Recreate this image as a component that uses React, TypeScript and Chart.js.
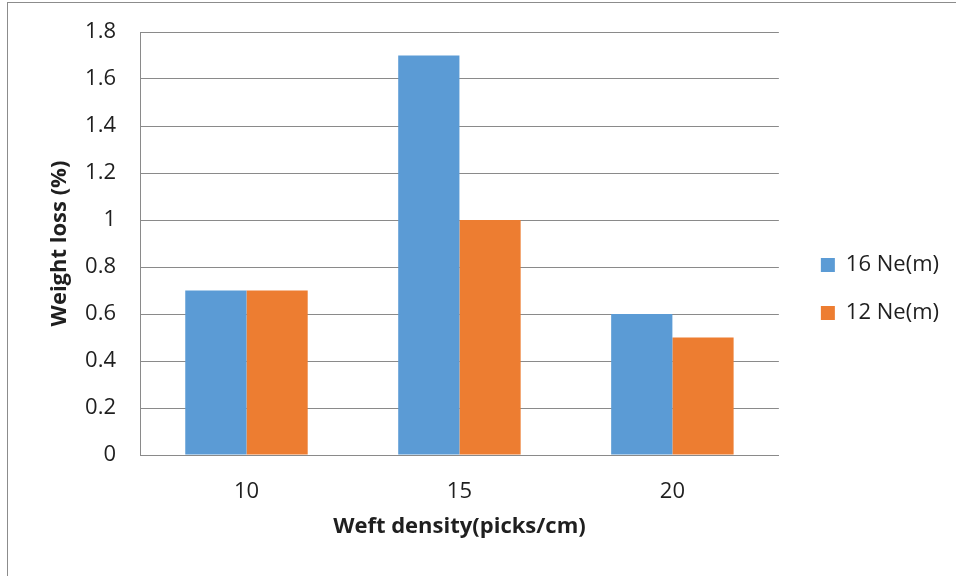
import React, { useEffect, useRef } from "react";
import { Chart, registerables } from "chart.js";

Chart.register(...registerables);

const categories = ["10", "15", "20"];
const series16 = [0.7, 1.7, 0.6];
const series12 = [0.7, 1.0, 0.5];
const seriesNames = ["16 Ne(m)", "12 Ne(m)"];
const yTickLabels = ["0", "0.2", "0.4", "0.6", "0.8", "1", "1.2", "1.4", "1.6", "1.8"];
const xTitle = "Weft density(picks/cm)";
const yTitle = "Weight loss (%)";

const FONT = "'Open Sans', Lato, sans-serif";
const TEXT = "#1f1f1f";
const GRID = "#8a8a8a";

export default function App() {
  const ref = useRef<HTMLCanvasElement | null>(null);

  useEffect(() => {
    if (!ref.current) return;
    const chart = new Chart(ref.current, {
      type: "bar",
      data: {
        labels: categories,
        datasets: [
          {
            label: seriesNames[0],
            data: series16,
            backgroundColor: "#5B9BD5",
            borderWidth: 0,
            categoryPercentage: 0.575,
            barPercentage: 1.0,
          },
          {
            label: seriesNames[1],
            data: series12,
            backgroundColor: "#ED7D31",
            borderWidth: 0,
            categoryPercentage: 0.575,
            barPercentage: 1.0,
          },
        ],
      },
      options: {
        responsive: false,
        animation: false,
        devicePixelRatio: 1,
        layout: { padding: { left: 0, top: 32, right: 7, bottom: 30 } },
        plugins: {
          tooltip: { enabled: false },
          legend: {
            position: "right",
            align: "center",
            labels: {
              font: { family: FONT, size: 22 },
              color: TEXT,
              boxWidth: 14,
              boxHeight: 14,
              padding: 26,
            },
          },
        },
        scales: {
          x: {
            grid: { display: false, drawTicks: false },
            border: { display: true, color: GRID, width: 1 },
            ticks: { font: { family: FONT, size: 22 }, color: TEXT, padding: 24 },
            title: {
              display: true,
              text: xTitle,
              font: { family: FONT, size: 22, weight: "bold" },
              color: TEXT,
              padding: { top: 0, bottom: 6 },
            },
            afterFit: (s: any) => {
              s.height = 91;
            },
          },
          y: {
            min: 0,
            max: 1.8,
            ticks: {
              stepSize: 0.2,
              font: { family: FONT, size: 22 },
              color: TEXT,
              padding: 0,
              callback: (_v: any, i: number) => yTickLabels[i],
            },
            grid: {
              color: GRID,
              lineWidth: 1,
              drawTicks: true,
              tickLength: 24,
              tickColor: "rgba(0,0,0,0)",
            },
            border: { display: true, color: GRID, width: 1 },
            title: {
              display: true,
              text: yTitle,
              font: { family: FONT, size: 22, weight: "bold" },
              color: TEXT,
              padding: { top: 47, bottom: 0 },
            },
            afterFit: (s: any) => {
              s.width = 140;
            },
          },
          gap: {
            type: "linear",
            position: "right",
            display: true,
            grid: { display: false, drawTicks: false },
            border: { display: false },
            ticks: { display: false },
            afterFit: (s: any) => {
              s.width = 16;
            },
          },
        },
      },
    });
    return () => chart.destroy();
  }, []);

  return (
    <div style={{ position: "fixed", left: 0, top: 0, width: 956, height: 576, background: "#fff", overflow: "hidden" }}>
      <canvas ref={ref} width={956} height={576} style={{ position: "absolute", left: 0, top: 0 }} />
      <div
        style={{
          position: "absolute",
          left: 7,
          top: 2,
          width: 948,
          height: 573,
          borderLeft: "1px solid #8c8c8c",
          borderTop: "1px solid #8c8c8c",
          pointerEvents: "none",
        }}
      />
    </div>
  );
}
